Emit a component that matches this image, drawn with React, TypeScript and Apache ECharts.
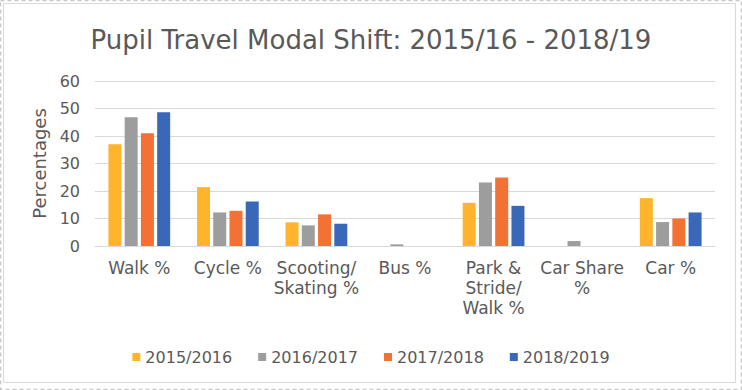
import React, { useEffect, useRef } from "react";
import * as echarts from "echarts";

const categories = [
  "Walk %",
  "Cycle %",
  "Scooting/\nSkating %",
  "Bus %",
  "Park &\nStride/\nWalk %",
  "Car Share\n%",
  "Car %",
];
const seriesNames = ["2015/2016", "2016/2017", "2017/2018", "2018/2019"];
const values2015 = [37, 21.4, 8.6, 0, 15.7, 0, 17.4];
const values2016 = [46.8, 12.2, 7.5, 0.6, 23.1, 1.8, 8.7];
const values2017 = [41, 12.8, 11.5, 0, 24.9, 0, 10];
const values2018 = [48.6, 16.2, 8.1, 0, 14.6, 0, 12.2];
const colors = ["#FFB42B", "#9D9D9D", "#F37134", "#3A68B8"];

const FONT = "DejaVu Sans";
const TEXT = "#595959";

export default function App() {
  const ref = useRef<HTMLDivElement>(null);
  useEffect(() => {
    if (!ref.current) return;
    const chart = echarts.init(ref.current, null, { renderer: "svg" });
    const data = [values2015, values2016, values2017, values2018];
    chart.setOption({
      animation: false,
      backgroundColor: "#ffffff",
      title: {
        text: "Pupil Travel Modal Shift: 2015/16 - 2018/19",
        left: "center",
        top: 22,
        textStyle: { fontFamily: FONT, fontSize: 26, fontWeight: "normal", color: TEXT },
      },
      graphic: [
        {
          type: "rect",
          shape: { x: 0.5, y: 0.5, width: 741, height: 389 },
          style: { fill: "none", stroke: "#c8c8c8", lineWidth: 1.5, lineDash: [4, 3] },
          silent: true,
        },
        {
          type: "rect",
          shape: { x: 3.5, y: 3.5, width: 732, height: 379 },
          style: { fill: "none", stroke: "#d9d9d9", lineWidth: 1 },
          silent: true,
        },
      ],
      legend: {
        data: seriesNames,
        left: "center",
        top: 344,
        icon: "rect",
        itemWidth: 8,
        itemHeight: 8,
        itemGap: 26,
        textStyle: { fontFamily: FONT, fontSize: 16, color: TEXT },
      },
      grid: { left: 95, right: 27, top: 81, bottom: 144 },
      xAxis: {
        type: "category",
        data: categories,
        axisLine: { show: true, lineStyle: { color: "#d9d9d9", width: 1 } },
        axisTick: { show: false },
        axisLabel: {
          interval: 0,
          margin: 12,
          fontFamily: FONT,
          fontSize: 17,
          color: TEXT,
          lineHeight: 20,
          align: "center",
        },
      },
      yAxis: {
        type: "value",
        min: 0,
        max: 60,
        interval: 10,
        name: "Percentages",
        nameLocation: "middle",
        nameGap: 44,
        nameTextStyle: { fontFamily: FONT, fontSize: 18, color: TEXT },
        axisLine: { show: false },
        axisTick: { show: false },
        axisLabel: { margin: 15, fontFamily: FONT, fontSize: 16, color: TEXT },
        splitLine: { lineStyle: { color: "#d9d9d9", width: 1 } },
      },
      series: seriesNames.map((name, i) => ({
        name,
        type: "bar",
        data: data[i],
        barWidth: 13,
        barGap: "25%",
        itemStyle: { color: colors[i] },
      })),
    });
    return () => chart.dispose();
  }, []);
  return (
    <div
      ref={ref}
      style={{ position: "fixed", left: 0, top: 0, width: 742, height: 390 }}
    />
  );
}
